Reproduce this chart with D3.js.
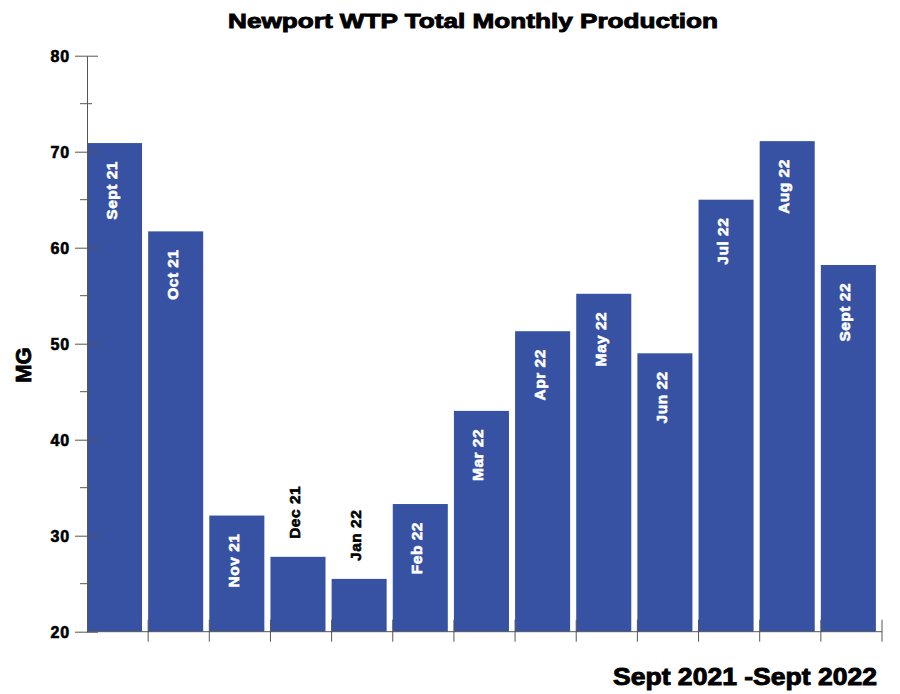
<!DOCTYPE html>
<meta charset="utf-8">
<style>
body { margin: 0; background: #fff; }
text { font-family: "Liberation Sans", Arial, sans-serif; font-weight: bold; }
.axis path, .axis line { stroke: #555; stroke-width: 1px; fill: none; }
</style>
<body>
<div id="chart"></div>
</body>
<script src="https://d3js.org/d3.v7.min.js"></script>
<script>

// data
var months = ["Sept 21", "Oct 21", "Nov 21", "Dec 21", "Jan 22", "Feb 22", "Mar 22",
              "Apr 22", "May 22", "Jun 22", "Jul 22", "Aug 22", "Sept 22"];
var production = [70.9, 61.7, 32.1, 27.8, 25.5, 33.3, 43.0, 51.3, 55.2, 49.0, 65.0, 71.1, 58.2];
var labelAbove = ["Dec 21", "Jan 22"];   // these labels sit on top of the bar
var majorTicks = [20, 30, 40, 50, 60, 70, 80];
var minorTicks = [25, 35, 45, 55, 65, 75];

var width = 900, height = 694;
var plotLeft = 87, plotRight = 882, plotTop = 55.7, plotBottom = 631.7;

var svg = d3.select("#chart").append("svg")
    .attr("width", width)
    .attr("height", height);

var x = d3.scaleBand().domain(months).range([plotLeft, plotRight]).padding(0);
var y = d3.scaleLinear().domain([20, 80]).range([plotBottom, plotTop]);
var barW = x.bandwidth() * 0.9;

// bars
svg.selectAll("rect.bar")
    .data(months)
  .enter().append("rect")
    .attr("class", "bar")
    .attr("x", function(d) { return x(d); })
    .attr("y", function(d, i) { return y(production[i]); })
    .attr("width", barW)
    .attr("height", function(d, i) { return plotBottom - y(production[i]); })
    .style("fill", "#3752a3");

// bar labels, rotated
svg.selectAll("text.lbl")
    .data(months)
  .enter().append("text")
    .attr("class", "lbl")
    .attr("transform", function(d, i) {
      var above = labelAbove.indexOf(d) >= 0;
      var ty = above ? y(production[i]) - 18 : y(production[i]) + 18;
      return "translate(" + (x(d) + barW / 2 + 2) + "," + ty + ") rotate(-90)";
    })
    .attr("text-anchor", function(d) { return labelAbove.indexOf(d) >= 0 ? "start" : "end"; })
    .style("font-size", "15.5px")
    .style("letter-spacing", "0.5px")
    .style("fill", function(d) { return labelAbove.indexOf(d) >= 0 ? "#000" : "#fff"; })
    .style("stroke", function(d) { return labelAbove.indexOf(d) >= 0 ? "#000" : "#fff"; })
    .style("stroke-width", "0.6px")
    .text(function(d) { return d; });

// y axis
var yAxis = svg.append("g")
    .attr("class", "axis")
    .attr("transform", "translate(" + plotLeft + ",0)")
    .call(d3.axisLeft(y).tickValues(majorTicks).tickSize(12).tickSizeOuter(0).tickPadding(5));
yAxis.selectAll(".tick line").attr("x2", 11).attr("x1", -12);
yAxis.selectAll(".tick text")
    .attr("x", -17)
    .attr("dy", "0.36em")
    .style("font-size", "16px")
    .style("letter-spacing", "0.8px")
    .style("fill", "#000")
    .style("stroke", "#000")
    .style("stroke-width", "0.6px")
    .style("font-family", "'Liberation Sans', Arial, sans-serif");

yAxis.selectAll("line.minor")
    .data(minorTicks)
  .enter().append("line")
    .attr("class", "minor")
    .attr("x1", -7).attr("x2", 5)
    .attr("y1", function(d) { return y(d); })
    .attr("y2", function(d) { return y(d); });

// x axis line and ticks at the band edges
var xAx = svg.append("g").attr("class", "axis");
xAx.append("line")
    .attr("x1", plotLeft).attr("x2", plotRight)
    .attr("y1", plotBottom).attr("y2", plotBottom);
var edges = months.slice(1).map(function(m) { return x(m); }).concat([plotRight]);
xAx.selectAll("line.xt")
    .data(edges)
  .enter().append("line")
    .attr("class", "xt")
    .attr("x1", function(d) { return d; })
    .attr("x2", function(d) { return d; })
    .attr("y1", plotBottom - 12)
    .attr("y2", plotBottom + 10);

// title and axis labels
svg.append("text")
    .attr("x", 473).attr("y", 28)
    .attr("text-anchor", "middle")
    .attr("textLength", 490)
    .attr("lengthAdjust", "spacingAndGlyphs")
    .style("font-size", "20.5px")
    .style("stroke", "#000")
    .style("stroke-width", "0.9px")
    .text("Newport WTP Total Monthly Production");

svg.append("text")
    .attr("transform", "translate(31,365) rotate(-90)")
    .attr("text-anchor", "middle")
    .style("font-size", "22px")
    .style("stroke", "#000")
    .style("stroke-width", "0.8px")
    .text("MG");

svg.append("text")
    .attr("x", 613).attr("y", 685)
    .attr("textLength", 264)
    .attr("lengthAdjust", "spacingAndGlyphs")
    .style("font-size", "23px")
    .style("stroke", "#000")
    .style("stroke-width", "0.9px")
    .text("Sept 2021 -Sept 2022");

</script>
